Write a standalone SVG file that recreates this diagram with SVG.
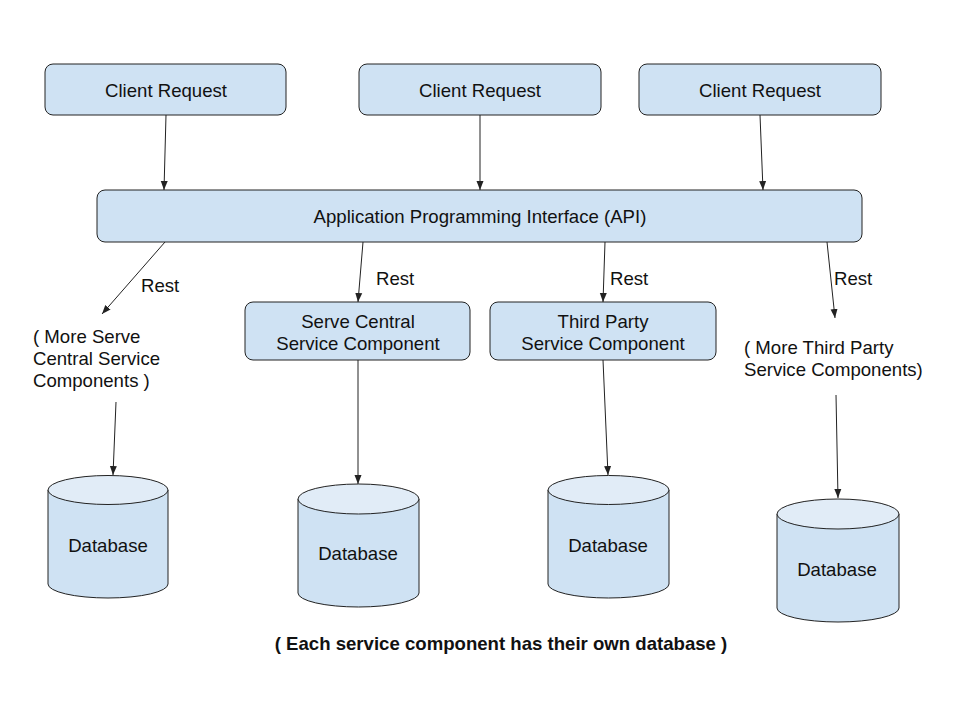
<svg xmlns="http://www.w3.org/2000/svg" width="960" height="720" viewBox="0 0 960 720">
<style>
.box{fill:#cfe2f3;stroke:#222;stroke-width:1}
.cyl{fill:#cfe2f3;stroke:#222;stroke-width:1}
.cylt{fill:#e1ecf7;stroke:#222;stroke-width:1}
text{font-family:"Liberation Sans",Arial,sans-serif;font-size:18.6px;fill:#111}
.c{text-anchor:middle}
.b{font-weight:bold}
.con line{stroke:#222;stroke-width:1;fill:none;marker-end:url(#ah)}
</style>
<defs>
<marker id="ah" markerUnits="userSpaceOnUse" markerWidth="10" markerHeight="10" viewBox="0 0 10 10" refX="9" refY="5" orient="auto">
<path d="M0,1.5 L9,5 L0,8.5 Z" fill="#222"/>
</marker>
</defs>
<rect width="960" height="720" fill="#fff"/>
<g id="client1"><rect class="box" x="45" y="64" width="241" height="51" rx="8"/><text class="c" x="166" y="96.7">Client Request</text></g>
<g id="client2"><rect class="box" x="359" y="64" width="242" height="51" rx="8"/><text class="c" x="480" y="96.7">Client Request</text></g>
<g id="client3"><rect class="box" x="639" y="64" width="242" height="51" rx="8"/><text class="c" x="760" y="96.7">Client Request</text></g>
<g id="api"><rect class="box" x="97" y="190" width="765" height="52" rx="8"/><text class="c" x="480" y="222.7">Application Programming Interface (API)</text></g>
<g id="serve-central"><rect class="box" x="245" y="302" width="225" height="58" rx="8"/><text class="c" x="358" y="328">Serve Central</text><text class="c" x="358" y="350">Service Component</text></g>
<g id="third-party"><rect class="box" x="490" y="302" width="226" height="58" rx="8"/><text class="c" x="603" y="328">Third Party</text><text class="c" x="603" y="350">Service Component</text></g>
<g id="more-serve"><text x="33" y="343">( More Serve</text><text x="33" y="365">Central Service</text><text x="33" y="387">Components )</text></g>
<g id="more-third"><text x="744" y="353.5">( More Third Party</text><text x="744" y="375.5">Service Components)</text></g>
<g id="db1"><path class="cyl" d="M48,490 L48,584 A60,14 0 0 0 168,584 L168,490 Z"/><ellipse class="cylt" cx="108" cy="490" rx="60" ry="14.5"/><text class="c" x="108" y="552">Database</text></g>
<g id="db2"><path class="cyl" d="M298,499 L298,593 A60.5,14 0 0 0 419,593 L419,499 Z"/><ellipse class="cylt" cx="358.5" cy="499" rx="60.5" ry="15"/><text class="c" x="358" y="560">Database</text></g>
<g id="db3"><path class="cyl" d="M548,490 L548,584 A60.5,14 0 0 0 669,584 L669,490 Z"/><ellipse class="cylt" cx="608.5" cy="490" rx="60.5" ry="14.5"/><text class="c" x="608" y="552">Database</text></g>
<g id="db4"><path class="cyl" d="M777,514 L777,608 A61,14 0 0 0 899,608 L899,514 Z"/><ellipse class="cylt" cx="838" cy="514" rx="61" ry="15"/><text class="c" x="837" y="576">Database</text></g>
<g id="connectors" class="con">
<line x1="166" y1="115" x2="164" y2="190"/>
<line x1="480" y1="115" x2="480" y2="190"/>
<line x1="760" y1="115" x2="763" y2="190"/>
<line x1="165" y1="242" x2="102" y2="314"/>
<line x1="363" y1="242" x2="358" y2="302"/>
<line x1="605" y1="242" x2="603" y2="302"/>
<line x1="827" y1="242" x2="835" y2="318"/>
<line x1="116" y1="402" x2="113" y2="475"/>
<line x1="358" y1="360" x2="358" y2="484"/>
<line x1="603" y1="360" x2="608" y2="475"/>
<line x1="836" y1="395" x2="838" y2="498"/>
</g>
<g id="labels">
<text x="141" y="292">Rest</text>
<text x="376" y="285">Rest</text>
<text x="610" y="285">Rest</text>
<text x="834" y="285">Rest</text>
</g>
<text class="c b" x="501" y="650">( Each service component has their own database )</text>
</svg>
